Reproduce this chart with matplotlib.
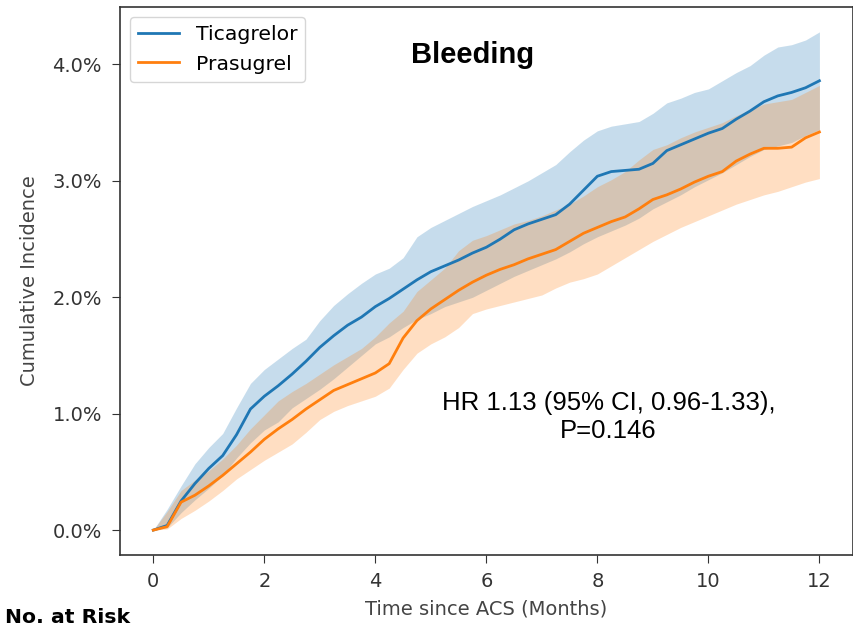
import numpy as np
import matplotlib.pyplot as plt
from matplotlib.ticker import PercentFormatter

FIGSIZE = (8.54, 6.28)
DPI = 100
AX_FONTSIZE = 14
LEG_FONTSIZE = 14.7

# months since ACS
months = [0, 0.25, 0.5, 0.75, 1.0, 1.25, 1.5, 1.75, 2.0, 2.25, 2.5, 2.75,
          3.0, 3.25, 3.5, 3.75, 4.0, 4.25, 4.5, 4.75, 5.0, 5.25, 5.5, 5.75,
          6.0, 6.25, 6.5, 6.75, 7.0, 7.25, 7.5, 7.75, 8.0, 8.25, 8.5, 8.75,
          9.0, 9.25, 9.5, 9.75, 10.0, 10.25, 10.5, 10.75, 11.0, 11.25, 11.5,
          11.75, 12.0]

# cumulative incidence (%)
tica = [0.00, 0.04, 0.25, 0.40, 0.53, 0.64, 0.82, 1.04, 1.15, 1.24, 1.34, 1.45,
        1.57, 1.67, 1.76, 1.83, 1.92, 1.99, 2.07, 2.15, 2.22, 2.27, 2.32, 2.38,
        2.43, 2.50, 2.58, 2.63, 2.67, 2.71, 2.80, 2.92, 3.04, 3.08, 3.09, 3.10,
        3.15, 3.26, 3.31, 3.36, 3.41, 3.45, 3.53, 3.60, 3.68, 3.73, 3.76,
        3.80, 3.86]
tica_hi = [0.00, 0.18, 0.38, 0.57, 0.71, 0.83, 1.05, 1.26, 1.38, 1.47, 1.56, 1.64,
           1.80, 1.93, 2.03, 2.12, 2.20, 2.25, 2.34, 2.52, 2.60, 2.66, 2.72, 2.78,
           2.83, 2.88, 2.94, 3.00, 3.07, 3.14, 3.25, 3.35, 3.43, 3.47, 3.49, 3.51,
           3.58, 3.67, 3.71, 3.76, 3.79, 3.86, 3.93, 3.99, 4.08, 4.15, 4.17,
           4.21, 4.28]
tica_lo = [0.00, 0.02, 0.15, 0.26, 0.36, 0.47, 0.62, 0.75, 0.86, 0.93, 1.05, 1.13,
           1.21, 1.30, 1.40, 1.50, 1.60, 1.66, 1.74, 1.81, 1.86, 1.92, 1.96, 2.00,
           2.06, 2.12, 2.18, 2.23, 2.28, 2.33, 2.39, 2.46, 2.52, 2.57, 2.62, 2.68,
           2.76, 2.82, 2.88, 2.95, 3.01, 3.07, 3.14, 3.21, 3.27, 3.30, 3.33,
           3.39, 3.44]

pras = [0.00, 0.03, 0.24, 0.30, 0.38, 0.47, 0.57, 0.67, 0.78, 0.87, 0.95, 1.04,
        1.12, 1.20, 1.25, 1.30, 1.35, 1.43, 1.65, 1.80, 1.90, 1.98, 2.06, 2.13,
        2.19, 2.24, 2.28, 2.33, 2.37, 2.41, 2.48, 2.55, 2.60, 2.65, 2.69, 2.76,
        2.84, 2.88, 2.93, 2.99, 3.04, 3.08, 3.17, 3.23, 3.28, 3.28, 3.29,
        3.37, 3.42]
pras_hi = [0.00, 0.16, 0.34, 0.43, 0.51, 0.61, 0.73, 0.87, 0.99, 1.11, 1.19, 1.26,
           1.34, 1.42, 1.49, 1.56, 1.66, 1.78, 1.88, 2.05, 2.15, 2.25, 2.40, 2.49,
           2.53, 2.58, 2.63, 2.66, 2.70, 2.75, 2.80, 2.87, 2.95, 3.01, 3.08, 3.18,
           3.27, 3.31, 3.37, 3.42, 3.46, 3.50, 3.56, 3.61, 3.66, 3.68, 3.70,
           3.76, 3.82]
pras_lo = [0.00, 0.01, 0.10, 0.17, 0.25, 0.34, 0.44, 0.52, 0.60, 0.67, 0.74, 0.84,
           0.95, 1.02, 1.07, 1.11, 1.15, 1.22, 1.38, 1.52, 1.60, 1.66, 1.74, 1.86,
           1.90, 1.93, 1.96, 1.99, 2.02, 2.08, 2.13, 2.16, 2.20, 2.27, 2.34, 2.41,
           2.48, 2.54, 2.60, 2.65, 2.70, 2.75, 2.80, 2.84, 2.88, 2.91, 2.95,
           2.99, 3.02]

groups = [('Ticagrelor', tica, tica_lo, tica_hi, 'tab:blue'),
          ('Prasugrel', pras, pras_lo, pras_hi, 'tab:orange')]

fig = plt.figure(figsize=FIGSIZE, dpi=DPI)
ax = fig.add_axes([0.1405, 0.1162, 0.858, 0.8727])

for label, ys, lo, hi, color in groups:
    ax.fill_between(months, lo, hi, color=color, alpha=0.25, linewidth=0)
    ax.plot(months, ys, color=color, lw=2, label=label)

ax.yaxis.set_major_formatter(PercentFormatter(decimals=1))
ax.set_yticks([0, 1, 2, 3, 4])
ax.set_xticks([0, 2, 4, 6, 8, 10, 12])
ax.tick_params(axis='both', labelsize=AX_FONTSIZE, length=6, colors='#333333')
ax.tick_params(axis='y', pad=7)
ax.tick_params(axis='x', pad=6)
for side in ax.spines:
    ax.spines[side].set_color('#333333')
    ax.spines[side].set_linewidth(1.2)
ax.set_xlabel('Time since ACS (Months)', fontsize=AX_FONTSIZE, color='#444444',
              labelpad=6)
ax.set_ylabel('Cumulative Incidence', fontsize=AX_FONTSIZE, color='#444444',
              labelpad=10)
ax.legend(loc='upper left', fontsize=LEG_FONTSIZE)

ax.text(0.4816, 0.912, 'Bleeding', transform=ax.transAxes, ha='center',
        va='center', fontsize=21, fontweight='bold', family='Liberation Sans')
ax.text(8.2, 0.97, 'HR 1.13 (95% CI, 0.96-1.33),\nP=0.146', ha='center',
        va='center', fontsize=18.5, family='Liberation Sans')

fig.text(0.006, 0.0175, 'No. at Risk', ha='left', va='center',
         fontsize=LEG_FONTSIZE, fontweight='bold')

plt.savefig('out.png', dpi=DPI)
